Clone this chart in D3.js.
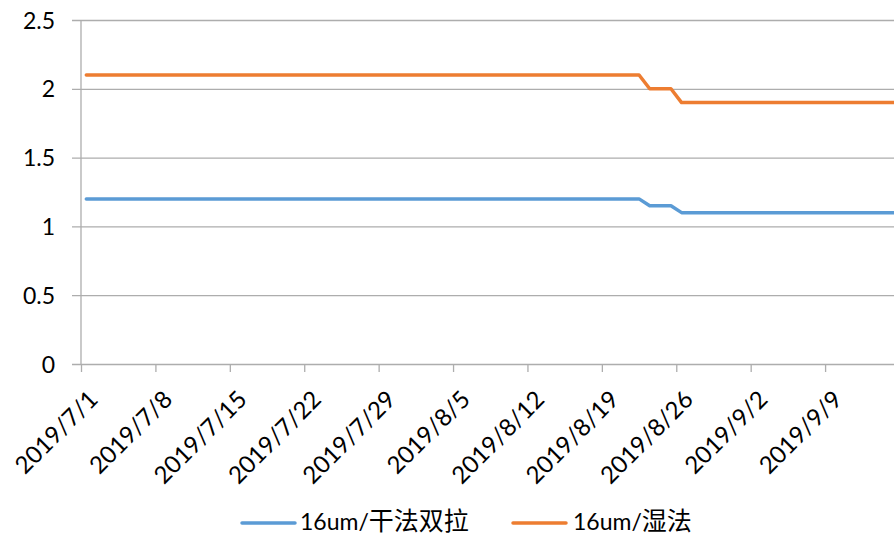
<!DOCTYPE html>
<html>
<head>
<meta charset="utf-8">
<script src="https://cdn.jsdelivr.net/npm/d3@7"></script>
<style>
  html, body { margin: 0; padding: 0; background: #fff; }
  svg { display: block; }
  text { font-family: Lato, "Noto Sans", sans-serif; fill: #000; }
</style>
</head>
<body>
<svg id="chart" width="894" height="537"></svg>
<script>
// Daily prices, 2019/7/1 – 2019/9/15
const dates = [
  "2019-07-01","2019-07-02","2019-07-03","2019-07-04","2019-07-05","2019-07-06","2019-07-07",
  "2019-07-08","2019-07-09","2019-07-10","2019-07-11","2019-07-12","2019-07-13","2019-07-14",
  "2019-07-15","2019-07-16","2019-07-17","2019-07-18","2019-07-19","2019-07-20","2019-07-21",
  "2019-07-22","2019-07-23","2019-07-24","2019-07-25","2019-07-26","2019-07-27","2019-07-28",
  "2019-07-29","2019-07-30","2019-07-31","2019-08-01","2019-08-02","2019-08-03","2019-08-04",
  "2019-08-05","2019-08-06","2019-08-07","2019-08-08","2019-08-09","2019-08-10","2019-08-11",
  "2019-08-12","2019-08-13","2019-08-14","2019-08-15","2019-08-16","2019-08-17","2019-08-18",
  "2019-08-19","2019-08-20","2019-08-21","2019-08-22","2019-08-23","2019-08-24","2019-08-25",
  "2019-08-26","2019-08-27","2019-08-28","2019-08-29","2019-08-30","2019-08-31","2019-09-01",
  "2019-09-02","2019-09-03","2019-09-04","2019-09-05","2019-09-06","2019-09-07","2019-09-08",
  "2019-09-09","2019-09-10","2019-09-11","2019-09-12","2019-09-13","2019-09-14","2019-09-15"
];

const dryBiaxial = [
  1.2,1.2,1.2,1.2,1.2,1.2,1.2,
  1.2,1.2,1.2,1.2,1.2,1.2,1.2,
  1.2,1.2,1.2,1.2,1.2,1.2,1.2,
  1.2,1.2,1.2,1.2,1.2,1.2,1.2,
  1.2,1.2,1.2,1.2,1.2,1.2,1.2,
  1.2,1.2,1.2,1.2,1.2,1.2,1.2,
  1.2,1.2,1.2,1.2,1.2,1.2,1.2,
  1.2,1.2,1.2,1.2,1.15,1.15,1.15,
  1.1,1.1,1.1,1.1,1.1,1.1,1.1,
  1.1,1.1,1.1,1.1,1.1,1.1,1.1,
  1.1,1.1,1.1,1.1,1.1,1.1,1.1
];

const wetProcess = [
  2.1,2.1,2.1,2.1,2.1,2.1,2.1,
  2.1,2.1,2.1,2.1,2.1,2.1,2.1,
  2.1,2.1,2.1,2.1,2.1,2.1,2.1,
  2.1,2.1,2.1,2.1,2.1,2.1,2.1,
  2.1,2.1,2.1,2.1,2.1,2.1,2.1,
  2.1,2.1,2.1,2.1,2.1,2.1,2.1,
  2.1,2.1,2.1,2.1,2.1,2.1,2.1,
  2.1,2.1,2.1,2.1,2.0,2.0,2.0,
  1.9,1.9,1.9,1.9,1.9,1.9,1.9,
  1.9,1.9,1.9,1.9,1.9,1.9,1.9,
  1.9,1.9,1.9,1.9,1.9,1.9,1.9
];

const seriesNames = ["16um/干法双拉", "16um/湿法"];
const seriesColors = ["#5B9BD5", "#ED7D31"];

const yTicks = [0, 0.5, 1, 1.5, 2, 2.5];
const xTickDates = ["2019-07-01","2019-07-08","2019-07-15","2019-07-22","2019-07-29",
  "2019-08-05","2019-08-12","2019-08-19","2019-08-26","2019-09-02","2019-09-09"];

const parse = d3.timeParse("%Y-%m-%d");
const fmt = d => `${d.getFullYear()}/${d.getMonth() + 1}/${d.getDate()}`;

const svg = d3.select("#chart");
const plotLeft = 81, plotRight = 899.5, plotTop = 20, plotBottom = 364;

// Date axis: each day occupies one slot, points sit in the middle of their day
const x = d3.scaleTime()
  .domain([parse("2019-07-01"), d3.timeDay.offset(parse(dates[dates.length - 1]), 1)])
  .range([plotLeft, plotRight]);
const xMid = d => x(new Date(d.getTime() + 12 * 3600 * 1000));

const y = d3.scaleLinear().domain([0, 2.5]).range([plotBottom, plotTop]);

const gridColor = "#ADADAD";

// Horizontal gridlines with outside tick marks
const yAxis = d3.axisLeft(y).tickValues(yTicks).tickSize(-(plotRight - plotLeft))
  .tickFormat(d => d3.format("")(d));
const gy = svg.append("g").attr("transform", `translate(${plotLeft},0)`).call(yAxis);
gy.select(".domain").remove();
gy.selectAll(".tick line").attr("stroke", gridColor).attr("stroke-width", 1.3)
  .attr("x1", -9);
gy.selectAll(".tick text").attr("font-size", 23).attr("font-family", "Lato, 'Noto Sans', sans-serif")
  .attr("x", -26).attr("dy", "0.35em");

// Vertical axis line
svg.append("line")
  .attr("x1", plotLeft).attr("x2", plotLeft).attr("y1", plotTop).attr("y2", plotBottom)
  .attr("stroke", gridColor).attr("stroke-width", 1.3);

// Date axis ticks and rotated labels
const xAxis = d3.axisBottom(x).tickValues(xTickDates.map(parse)).tickSize(8).tickFormat(fmt);
const gx = svg.append("g").attr("transform", `translate(0,${plotBottom})`).call(xAxis);
gx.select(".domain").remove();
gx.selectAll(".tick line").attr("stroke", gridColor).attr("stroke-width", 1.3);
gx.selectAll(".tick text")
  .attr("font-size", 24).attr("font-family", "Lato, 'Noto Sans', sans-serif")
  .attr("text-anchor", "end")
  .attr("y", 0).attr("dy", "0.35em")
  .attr("transform", "translate(12,31) rotate(-45)");

// Price lines
const series = [dryBiaxial, wetProcess];
const line = d3.line()
  .x((v, i) => xMid(parse(dates[i])))
  .y(v => y(v));
series.forEach((vals, k) => {
  svg.append("path")
    .datum(vals)
    .attr("d", line)
    .attr("fill", "none")
    .attr("stroke", seriesColors[k])
    .attr("stroke-width", 3.5)
    .attr("stroke-linejoin", "round")
    .attr("stroke-linecap", "round");
});

// Legend
const legendItems = [
  { lineX: 242, textX: 300 },
  { lineX: 513, textX: 573 }
];
const legendY = 523;
legendItems.forEach((it, k) => {
  svg.append("line")
    .attr("x1", it.lineX).attr("x2", it.lineX + 53)
    .attr("y1", legendY).attr("y2", legendY)
    .attr("stroke", seriesColors[k]).attr("stroke-width", 3.5)
    .attr("stroke-linecap", "round");
  const name = seriesNames[k];
  const cut = name.indexOf("/") + 1;
  const t = svg.append("text").attr("x", it.textX).attr("y", 529.5);
  t.append("tspan").attr("font-size", 23).text(name.slice(0, cut));
  t.append("tspan").attr("font-size", 25)
    .attr("font-family", "'Noto Sans CJK SC', sans-serif")
    .text(name.slice(cut));
});
</script>
</body>
</html>
